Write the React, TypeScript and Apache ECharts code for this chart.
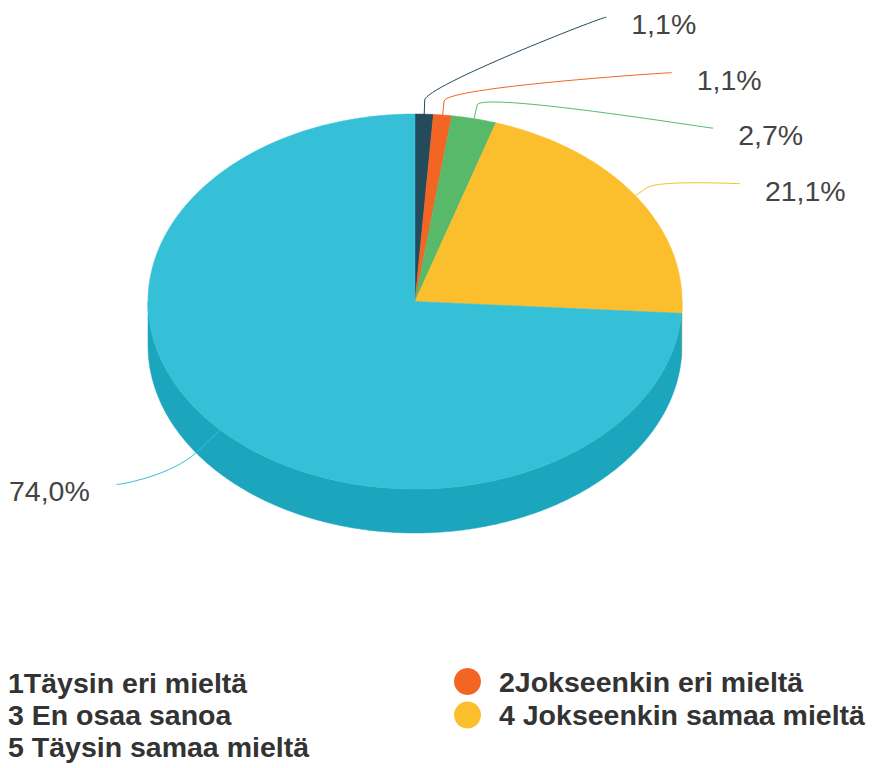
import React, { useEffect, useRef } from 'react';
import * as echarts from 'echarts';

// ---- data ----
const categories = [
  '1Täysin eri mieltä',
  '2Jokseenkin eri mieltä',
  '3 En osaa sanoa',
  '4 Jokseenkin samaa mieltä',
  '5 Täysin samaa mieltä',
];
const values = [1.1, 1.1, 2.7, 21.1, 74.0];

// ---- styles ----
const colors = ['#234b5b', '#f26522', '#58b96a', '#fbbf2d', '#35c0d8'];
const FONT = "'Liberation Sans', Arial, Helvetica, sans-serif";

// ---- layout ----
const CX = 415;
const CY = 301.5;
const RX = 267;
const RY = 187.5;
const DEPTH = 44;
const LABEL_DIST = 90;
const LABEL_SPACING = 55.5;
const CONNECTOR_A = 346.2;
const CONNECTOR_K = 1.03;

const TAU = Math.PI * 2;
const total = values.reduce((a, b) => a + b, 0);
const starts: number[] = [];
(() => {
  let acc = 0;
  values.forEach((v) => {
    starts.push((acc / total) * TAU);
    acc += v;
  });
})();

function shade(hex: string, d: number) {
  const n = parseInt(hex.slice(1), 16);
  const r = Math.max(0, Math.min(255, ((n >> 16) & 255) + d));
  const g = Math.max(0, Math.min(255, ((n >> 8) & 255) + d));
  const b = Math.max(0, Math.min(255, (n & 255) + d));
  return 'rgb(' + r + ',' + g + ',' + b + ')';
}

function pt(theta: number, dy = 0): number[] {
  return [CX + RX * Math.sin(theta), CY - RY * Math.cos(theta) + dy];
}

function arc(a: number, b: number, dy = 0): number[][] {
  const n = Math.max(2, Math.ceil(((b - a) / Math.PI) * 360));
  const out: number[][] = [];
  for (let k = 0; k <= n; k++) out.push(pt(a + ((b - a) * k) / n, dy));
  return out;
}

function fmt(v: number) {
  return v.toFixed(1).replace('.', ',') + '%';
}

// label layout (distributed like the pie's outside labels)
type Lab = { y: number; right: boolean; mid: number };
const labels: Lab[] = values.map((v, i) => {
  const mid = starts[i] + ((v / total) * TAU) / 2;
  return {
    mid,
    right: Math.sin(mid) >= 0,
    y: CY - (RY + LABEL_DIST) * Math.cos(mid),
  };
});
(() => {
  const right = labels.filter((l) => l.right).sort((a, b) => a.y - b.y);
  for (let k = 1; k < right.length; k++) {
    right[k].y = Math.max(right[k].y, right[k - 1].y + LABEL_SPACING);
  }
  const left = labels.filter((l) => !l.right).sort((a, b) => a.y - b.y);
  for (let k = 1; k < left.length; k++) {
    left[k].y = Math.max(left[k].y, left[k - 1].y + LABEL_SPACING);
  }
})();

function makeSeries(i: number) {
  return {
    type: 'custom',
    name: categories[i],
    coordinateSystem: 'none',
    itemStyle: { color: colors[i] },
    data: [values[i]],
    renderItem: (params: any, api: any) => {
      const v = api.value(0);
      const t0 = starts[i];
      const t1 = t0 + (v / total) * TAU;
      const color = colors[i];
      const children: any[] = [];

      // top face
      const topPts = [[CX, CY], ...arc(t0, t1)];
      children.push({
        type: 'polygon',
        shape: { points: topPts },
        style: { fill: color, stroke: color, lineWidth: 0.5 },
        z2: 10,
      });

      // visible outer side (front half)
      const a = Math.max(t0, Math.PI / 2);
      const b = Math.min(t1, (3 * Math.PI) / 2);
      if (b > a) {
        const upper = arc(a, b);
        const lower = arc(a, b, DEPTH).reverse();
        const side = shade(color, -26);
        children.push({
          type: 'polygon',
          shape: { points: [...upper, ...lower] },
          style: { fill: side, stroke: side, lineWidth: 0.5 },
          z2: 2,
        });
      }

      // data label + connector
      const lab = labels[i];
      const mid = lab.mid;
      const dir = lab.right ? 1 : -1;
      const ly = lab.y - 7;
      const dyc = ly - CY;
      const reach = Math.sqrt(
        Math.max(0, CONNECTOR_A * CONNECTOR_A - CONNECTOR_K * dyc * dyc)
      );
      const lx = CX + dir * (reach + (lab.right ? 0 : 6));
      const touch = pt(mid);
      const L = 14 + DEPTH * Math.max(0, -Math.cos(mid)) * 0.63;
      const brk = [touch[0] + L * Math.sin(mid), touch[1] - L * Math.cos(mid)];
      const c1x = lx - dir * 5;
      const c2 = [2 * brk[0] - touch[0], 2 * brk[1] - touch[1]];
      const d =
        'M' + lx + ' ' + ly +
        ' C' + c1x + ' ' + ly + ' ' + c2[0] + ' ' + c2[1] + ' ' + brk[0] + ' ' + brk[1] +
        ' L' + touch[0] + ' ' + touch[1];
      children.push({
        type: 'path',
        shape: { pathData: d },
        style: { fill: 'none', stroke: color, lineWidth: 1 },
        z2: 20,
      });
      children.push({
        type: 'text',
        x: lx + dir * (lab.right ? 25 : 27),
        y: lab.y,
        style: {
          text: fmt(v),
          fill: '#444444',
          fontSize: 28.5,
          fontFamily: FONT,
          align: lab.right ? 'left' : 'right',
          verticalAlign: 'middle',
        },
        z2: 30,
      });

      return { type: 'group', children };
    },
  };
}

const legendText = {
  color: '#333333',
  fontSize: 28.5,
  fontWeight: 'bold' as const,
  fontFamily: FONT,
};

export default function App() {
  const ref = useRef<HTMLDivElement>(null);
  useEffect(() => {
    if (!ref.current) return;
    const chart = echarts.init(ref.current, undefined, { renderer: 'svg' });
    chart.setOption({
      animation: false,
      backgroundColor: '#ffffff',
      legend: [
        {
          orient: 'vertical',
          left: 0,
          top: 668.5,
          padding: 0,
          itemWidth: 3,
          itemHeight: 26,
          itemGap: 3,
          icon: 'circle',
          selectedMode: false,
          textStyle: legendText,
          data: [0, 2, 4].map((k) => ({
            name: categories[k],
            itemStyle: { color: 'rgba(0,0,0,0)', opacity: 0 },
          })),
        },
        {
          orient: 'vertical',
          left: 454,
          top: 667,
          padding: 0,
          itemWidth: 53,
          itemHeight: 27,
          itemGap: 4.5,
          icon: 'circle',
          selectedMode: false,
          textStyle: legendText,
          data: [1, 3].map((k) => categories[k]),
        },
      ],
      series: values.map((_, i) => makeSeries(i)),
    });
    return () => chart.dispose();
  }, []);
  return (
    <div
      ref={ref}
      style={{ position: 'fixed', left: 0, top: 0, width: 876, height: 768 }}
    />
  );
}
